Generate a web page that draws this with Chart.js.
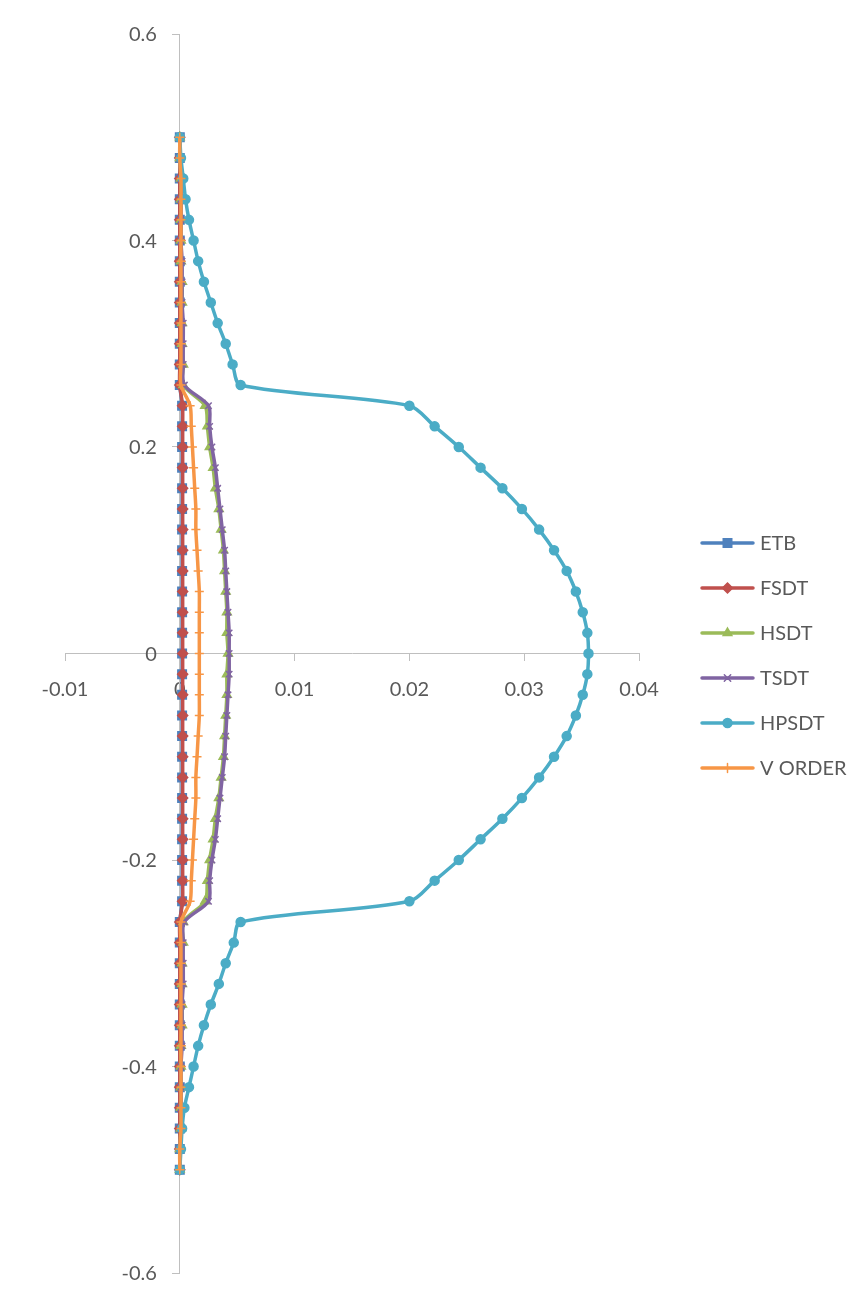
<!DOCTYPE html>
<html>
<head>
<meta charset="utf-8">
<script src="https://cdn.jsdelivr.net/npm/chart.js@4/dist/chart.umd.min.js"></script>
<style>
  body { margin: 0; background: #fff; }
  canvas { display: block; }
</style>
</head>
<body>
<canvas id="perfil"></canvas>
<script>
// z coordinate (vertical axis), top to bottom
const zValues = [0.5, 0.48, 0.46, 0.44, 0.42, 0.4, 0.38, 0.36, 0.34, 0.32, 0.3, 0.28, 0.26,
  0.24, 0.22, 0.2, 0.18, 0.16, 0.14, 0.12, 0.1, 0.08, 0.06, 0.04, 0.02, 0,
  -0.02, -0.04, -0.06, -0.08, -0.1, -0.12, -0.14, -0.16, -0.18, -0.2, -0.22, -0.24,
  -0.26, -0.28, -0.3, -0.32, -0.34, -0.36, -0.38, -0.4, -0.42, -0.44, -0.46, -0.48, -0.5];

const etb = [0, 0, 0, 0, 0, 0, 0, 0, 0, 0, 0, 0, 0,
  0.0002, 0.0002, 0.0002, 0.0002, 0.0002, 0.0002, 0.0002, 0.0002, 0.0002, 0.0002, 0.0002, 0.0002, 0.0002,
  0.0002, 0.0002, 0.0002, 0.0002, 0.0002, 0.0002, 0.0002, 0.0002, 0.0002, 0.0002, 0.0002, 0.0002,
  0, 0, 0, 0, 0, 0, 0, 0, 0, 0, 0, 0, 0];

const fsdt = [0, 0, 0, 0, 0, 0, 0, 0, 0, 0, 0, 0, 0,
  0.00024, 0.00025, 0.00025, 0.00025, 0.00025, 0.00025, 0.00025, 0.00025, 0.00025, 0.00025, 0.00025, 0.00025, 0.00025,
  0.00025, 0.00025, 0.00025, 0.00025, 0.00025, 0.00025, 0.00025, 0.00025, 0.00025, 0.00025, 0.00025, 0.00024,
  0, 0, 0, 0, 0, 0, 0, 0, 0, 0, 0, 0, 0];

const hsdt = [0, 0, 0.0001, 0.0001, 0.0001, 0.0001, 0.0001, 0.0002, 0.0002, 0.0002, 0.0002, 0.0003, 0.0003,
  0.0022, 0.0024, 0.0026, 0.0029, 0.0031, 0.0034, 0.0036, 0.0038, 0.0039, 0.004, 0.0041, 0.0041, 0.0042,
  0.0041, 0.0041, 0.004, 0.0039, 0.0038, 0.0036, 0.0034, 0.0031, 0.0029, 0.0026, 0.0024, 0.0022,
  0.0003, 0.0003, 0.0002, 0.0002, 0.0002, 0.0002, 0.0001, 0.0001, 0.0001, 0.0001, 0.0001, 0, 0];

const tsdt = [0, 0, 0.0001, 0.0001, 0.0001, 0.0001, 0.0002, 0.0002, 0.0002, 0.0003, 0.0003, 0.0003, 0.0004,
  0.0025, 0.0026, 0.0028, 0.0031, 0.0033, 0.0035, 0.0037, 0.0039, 0.004, 0.0041, 0.0042, 0.0043, 0.0043,
  0.0043, 0.0042, 0.0041, 0.004, 0.0039, 0.0037, 0.0035, 0.0033, 0.0031, 0.0028, 0.0026, 0.0025,
  0.0004, 0.0003, 0.0003, 0.0003, 0.0002, 0.0002, 0.0002, 0.0001, 0.0001, 0.0001, 0.0001, 0, 0];

const hpsdt = [0, 0.0001, 0.0003, 0.0005, 0.0008, 0.0012, 0.0016, 0.0021, 0.0027, 0.0033, 0.004, 0.0046, 0.0053,
  0.02, 0.0222, 0.0243, 0.0262, 0.0281, 0.0298, 0.0313, 0.0326, 0.0337, 0.0345, 0.0351, 0.0355, 0.0356,
  0.0355, 0.0351, 0.0345, 0.0337, 0.0326, 0.0313, 0.0298, 0.0281, 0.0262, 0.0243, 0.0222, 0.02,
  0.0053, 0.0047, 0.004, 0.0034, 0.0027, 0.0021, 0.0016, 0.0012, 0.0008, 0.0004, 0.0002, 0.0001, 0];

const vOrder = [0, 0, 0.0001, 0.0001, 0.0001, 0.0001, 0.0001, 0.0001, 0.0001, 0.0001, 0.0001, 0.0001, 0.0001,
  0.0009, 0.001, 0.0011, 0.0012, 0.0013, 0.0014, 0.0014, 0.0015, 0.0016, 0.0017, 0.0017, 0.0017, 0.0017,
  0.0017, 0.0017, 0.0017, 0.0016, 0.0015, 0.0014, 0.0014, 0.0013, 0.0012, 0.0011, 0.001, 0.0009,
  0.0001, 0.0001, 0.0001, 0.0001, 0.0001, 0.0001, 0.0001, 0.0001, 0.0001, 0.0001, 0.0001, 0, 0];

const seriesNames = ['ETB', 'FSDT', 'HSDT', 'TSDT', 'HPSDT', 'V ORDER'];
const xTicks = [-0.01, 0, 0.01, 0.02, 0.03, 0.04];
const yTicks = [-0.6, -0.4, -0.2, 0, 0.2, 0.4, 0.6];

const canvas = document.getElementById('perfil');
canvas.width = 863;
canvas.height = 1296;

const fonte = 'Lato, "Liberation Sans", sans-serif';
const cinza = '#595959';
const eixo = '#bfbfbf';

function pontos(valores) {
  return valores.map((v, i) => ({ x: v, y: zValues[i] }));
}

function rotuloY(v) {
  return Math.abs(v) < 1e-9 ? '0' : v.toFixed(1);
}

// estilo de cada serie (cores do Excel)
const estilos = [
  { cor: '#4f81bd', marca: 'rect', raio: 6 },
  { cor: '#c0504d', marca: 'rectRot', raio: 5 },
  { cor: '#9bbb59', marca: 'triangle', raio: 5 },
  { cor: '#8064a2', marca: 'crossRot', raio: 4.5 },
  { cor: '#4bacc6', marca: 'circle', raio: 4.5 },
  { cor: '#f79646', marca: 'cross', raio: 4.5 }
];
const valores = [etb, fsdt, hsdt, tsdt, hpsdt, vOrder];

const datasets = valores.map((v, i) => ({
  label: seriesNames[i],
  data: pontos(v),
  showLine: true,
  borderColor: estilos[i].cor,
  backgroundColor: estilos[i].cor,
  borderWidth: 3.5,
  tension: 0.3,
  pointStyle: estilos[i].marca,
  pointRadius: estilos[i].raio,
  pointBorderWidth: 1.5,
  pointBorderColor: estilos[i].cor,
  pointBackgroundColor: estilos[i].cor,
  order: 6 - i // ultima serie fica por cima, como no Excel
}));

// legenda desenhada a mao (linha + marcador) e rotulos do eixo vertical
const legendaPlugin = {
  id: 'legendaExcel',
  afterDraw(chart) {
    const ctx = chart.ctx;
    ctx.save();

    // rotulos do eixo z, a esquerda do eixo que passa em x = 0
    const xs = chart.scales.x;
    const ys = chart.scales.y;
    const xEixo = xs.getPixelForValue(0);
    ctx.fillStyle = cinza;
    ctx.font = '20px ' + fonte;
    ctx.textAlign = 'right';
    ctx.textBaseline = 'middle';
    ys.ticks.forEach(t => {
      ctx.fillText(rotuloY(t.value), xEixo - 23, ys.getPixelForValue(t.value) + 1);
    });

    seriesNames.forEach((nome, i) => {
      const y = 543 + i * 45;
      ctx.strokeStyle = estilos[i].cor;
      ctx.lineWidth = 3.5;
      ctx.lineCap = 'round';
      ctx.beginPath();
      ctx.moveTo(702, y);
      ctx.lineTo(753, y);
      ctx.stroke();
      ctx.fillStyle = estilos[i].cor;
      ctx.lineWidth = 1.5;
      Chart.helpers.drawPoint(ctx, { pointStyle: estilos[i].marca, radius: estilos[i].raio, rotation: 0, borderWidth: 1.5 }, 727.5, y);
      ctx.fillStyle = cinza;
      ctx.font = '20px ' + fonte;
      ctx.textBaseline = 'middle';
      ctx.textAlign = 'left';
      ctx.fillText(nome, 760, y + 1);
    });
    ctx.restore();
  }
};

const ctx = canvas.getContext('2d');
const perfilChart = new Chart(ctx, {
  type: 'scatter',
  data: { datasets: datasets },
  options: {
    responsive: false,
    animation: false,
    layout: { padding: { left: 65, right: 224, top: 34, bottom: 23 } },
    plugins: {
      legend: { display: false },
      tooltip: { enabled: false }
    },
    scales: {
      x: {
        type: 'linear',
        position: { y: 0 },
        min: xTicks[0],
        max: xTicks[xTicks.length - 1],
        afterBuildTicks: (axis) => { axis.ticks = xTicks.map(v => ({ value: v })); },
        grid: { drawOnChartArea: false, drawTicks: true, tickLength: 7, color: eixo },
        border: { color: eixo, width: 1 },
        ticks: {
          color: cinza,
          font: { family: fonte, size: 20 },
          padding: 17,
          maxRotation: 0,
          callback: (v) => (v === 0 ? '0' : v.toFixed(2))
        }
      },
      y: {
        type: 'linear',
        position: { x: 0 },
        min: yTicks[0],
        max: yTicks[yTicks.length - 1],
        afterBuildTicks: (axis) => { axis.ticks = yTicks.map(v => ({ value: v })); },
        grid: { drawOnChartArea: false, drawTicks: true, tickLength: 7, color: eixo },
        border: { color: eixo, width: 1 },
        ticks: {
          display: false
        }
      }
    }
  },
  plugins: [legendaPlugin]
});
</script>
</body>
</html>
